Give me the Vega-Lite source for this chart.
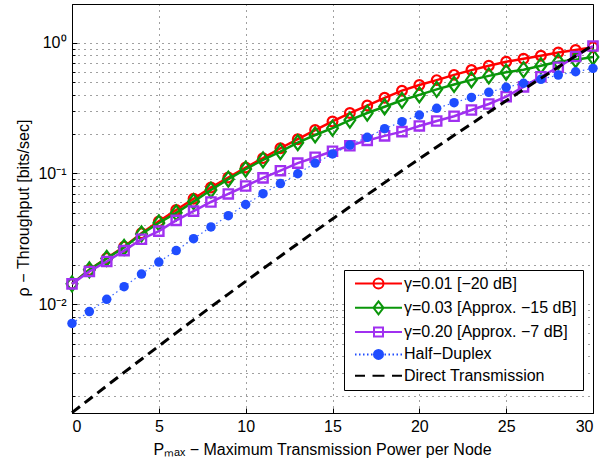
{
  "$schema": "https://vega.github.io/schema/vega-lite/v6.json",
  "width": 521,
  "height": 409,
  "autosize": {"type": "none"},
  "padding": {"left": 72, "top": 4, "right": 7, "bottom": 55},
  "background": "white",
  "config": {
    "view": {"stroke": "#000", "strokeWidth": 1},
    "axis": {
      "labelFont": "Liberation Sans", "titleFont": "Liberation Sans",
      "labelFontSize": 16, "titleFontSize": 16, "titleFontWeight": "normal",
      "labelColor": "#000", "titleColor": "#000", "domainColor": "#000",
      "tickColor": "#000", "gridColor": "#000", "gridDash": [1, 5], "gridOpacity": 0.75,
      "tickSize": -5
    },
    "legend": {
      "title": null, "padding": 5.5, "strokeColor": "#000", "fillColor": "#fff", "cornerRadius": 0,
      "labelFont": "Liberation Sans", "labelFontSize": 16, "labelColor": "#000", "labelLimit": 400,
      "symbolSize": 100, "symbolStrokeWidth": 2, "symbolOffset": 21, "labelOffset": 17.5, "rowPadding": 4.3
    }
  },
  "datasets": {
    "d": [
      {"x":0,"y":0.0143,"s":"g001"},{"x":1,"y":0.0183,"s":"g001"},{"x":2,"y":0.0225,"s":"g001"},{"x":3,"y":0.0275,"s":"g001"},{"x":4,"y":0.0349,"s":"g001"},{"x":5,"y":0.043,"s":"g001"},{"x":6,"y":0.0526,"s":"g001"},{"x":7,"y":0.064,"s":"g001"},{"x":8,"y":0.078,"s":"g001"},{"x":9,"y":0.093,"s":"g001"},{"x":10,"y":0.111,"s":"g001"},{"x":11,"y":0.131,"s":"g001"},{"x":12,"y":0.156,"s":"g001"},{"x":13,"y":0.183,"s":"g001"},{"x":14,"y":0.215,"s":"g001"},{"x":15,"y":0.25,"s":"g001"},{"x":16,"y":0.29,"s":"g001"},{"x":17,"y":0.331,"s":"g001"},{"x":18,"y":0.379,"s":"g001"},{"x":19,"y":0.43,"s":"g001"},{"x":20,"y":0.475,"s":"g001"},{"x":21,"y":0.518,"s":"g001"},{"x":22,"y":0.568,"s":"g001"},{"x":23,"y":0.618,"s":"g001"},{"x":24,"y":0.668,"s":"g001"},{"x":25,"y":0.716,"s":"g001"},{"x":26,"y":0.755,"s":"g001"},{"x":27,"y":0.797,"s":"g001"},{"x":28,"y":0.842,"s":"g001"},{"x":29,"y":0.88,"s":"g001"},{"x":30,"y":0.925,"s":"g001"},
      {"x":0,"y":0.0143,"s":"g003"},{"x":1,"y":0.0183,"s":"g003"},{"x":2,"y":0.0224,"s":"g003"},{"x":3,"y":0.0272,"s":"g003"},{"x":4,"y":0.0345,"s":"g003"},{"x":5,"y":0.0418,"s":"g003"},{"x":6,"y":0.05,"s":"g003"},{"x":7,"y":0.0609,"s":"g003"},{"x":8,"y":0.0747,"s":"g003"},{"x":9,"y":0.0905,"s":"g003"},{"x":10,"y":0.108,"s":"g003"},{"x":11,"y":0.127,"s":"g003"},{"x":12,"y":0.147,"s":"g003"},{"x":13,"y":0.172,"s":"g003"},{"x":14,"y":0.197,"s":"g003"},{"x":15,"y":0.222,"s":"g003"},{"x":16,"y":0.256,"s":"g003"},{"x":17,"y":0.29,"s":"g003"},{"x":18,"y":0.324,"s":"g003"},{"x":19,"y":0.363,"s":"g003"},{"x":20,"y":0.399,"s":"g003"},{"x":21,"y":0.44,"s":"g003"},{"x":22,"y":0.48,"s":"g003"},{"x":23,"y":0.52,"s":"g003"},{"x":24,"y":0.558,"s":"g003"},{"x":25,"y":0.595,"s":"g003"},{"x":26,"y":0.622,"s":"g003"},{"x":27,"y":0.668,"s":"g003"},{"x":28,"y":0.716,"s":"g003"},{"x":29,"y":0.742,"s":"g003"},{"x":30,"y":0.778,"s":"g003"},
      {"x":0,"y":0.0143,"s":"g020"},{"x":1,"y":0.0178,"s":"g020"},{"x":2,"y":0.0212,"s":"g020"},{"x":3,"y":0.0257,"s":"g020"},{"x":4,"y":0.0314,"s":"g020"},{"x":5,"y":0.0362,"s":"g020"},{"x":6,"y":0.0438,"s":"g020"},{"x":7,"y":0.0515,"s":"g020"},{"x":8,"y":0.0605,"s":"g020"},{"x":9,"y":0.0697,"s":"g020"},{"x":10,"y":0.0802,"s":"g020"},{"x":11,"y":0.0925,"s":"g020"},{"x":12,"y":0.105,"s":"g020"},{"x":13,"y":0.12,"s":"g020"},{"x":14,"y":0.133,"s":"g020"},{"x":15,"y":0.148,"s":"g020"},{"x":16,"y":0.163,"s":"g020"},{"x":17,"y":0.179,"s":"g020"},{"x":18,"y":0.194,"s":"g020"},{"x":19,"y":0.209,"s":"g020"},{"x":20,"y":0.231,"s":"g020"},{"x":21,"y":0.252,"s":"g020"},{"x":22,"y":0.274,"s":"g020"},{"x":23,"y":0.306,"s":"g020"},{"x":24,"y":0.34,"s":"g020"},{"x":25,"y":0.387,"s":"g020"},{"x":26,"y":0.46,"s":"g020"},{"x":27,"y":0.55,"s":"g020"},{"x":28,"y":0.65,"s":"g020"},{"x":29,"y":0.785,"s":"g020"},{"x":30,"y":0.945,"s":"g020"},
      {"x":0,"y":0.00712,"s":"hd"},{"x":1,"y":0.00878,"s":"hd"},{"x":2,"y":0.0109,"s":"hd"},{"x":3,"y":0.0136,"s":"hd"},{"x":4,"y":0.017,"s":"hd"},{"x":5,"y":0.021,"s":"hd"},{"x":6,"y":0.0257,"s":"hd"},{"x":7,"y":0.0317,"s":"hd"},{"x":8,"y":0.039,"s":"hd"},{"x":9,"y":0.0475,"s":"hd"},{"x":10,"y":0.0579,"s":"hd"},{"x":11,"y":0.07,"s":"hd"},{"x":12,"y":0.0837,"s":"hd"},{"x":13,"y":0.0995,"s":"hd"},{"x":14,"y":0.12,"s":"hd"},{"x":15,"y":0.141,"s":"hd"},{"x":16,"y":0.165,"s":"hd"},{"x":17,"y":0.189,"s":"hd"},{"x":18,"y":0.22,"s":"hd"},{"x":19,"y":0.249,"s":"hd"},{"x":20,"y":0.28,"s":"hd"},{"x":21,"y":0.315,"s":"hd"},{"x":22,"y":0.348,"s":"hd"},{"x":23,"y":0.382,"s":"hd"},{"x":24,"y":0.418,"s":"hd"},{"x":25,"y":0.456,"s":"hd"},{"x":26,"y":0.49,"s":"hd"},{"x":27,"y":0.525,"s":"hd"},{"x":28,"y":0.566,"s":"hd"},{"x":29,"y":0.6,"s":"hd"},{"x":30,"y":0.637,"s":"hd"},
      {"x":0,"y":0.00148,"s":"dt"},{"x":1,"y":0.001874,"s":"dt"},{"x":2,"y":0.002372,"s":"dt"},{"x":3,"y":0.003005,"s":"dt"},{"x":4,"y":0.003793,"s":"dt"},{"x":5,"y":0.004786,"s":"dt"},{"x":6,"y":0.006031,"s":"dt"},{"x":7,"y":0.007586,"s":"dt"},{"x":8,"y":0.009526,"s":"dt"},{"x":9,"y":0.01194,"s":"dt"},{"x":10,"y":0.01494,"s":"dt"},{"x":11,"y":0.01867,"s":"dt"},{"x":12,"y":0.02329,"s":"dt"},{"x":13,"y":0.02904,"s":"dt"},{"x":14,"y":0.03612,"s":"dt"},{"x":15,"y":0.04487,"s":"dt"},{"x":16,"y":0.0556,"s":"dt"},{"x":17,"y":0.0688,"s":"dt"},{"x":18,"y":0.0851,"s":"dt"},{"x":19,"y":0.105,"s":"dt"},{"x":20,"y":0.1294,"s":"dt"},{"x":21,"y":0.1593,"s":"dt"},{"x":22,"y":0.1957,"s":"dt"},{"x":23,"y":0.2401,"s":"dt"},{"x":24,"y":0.294,"s":"dt"},{"x":25,"y":0.3597,"s":"dt"},{"x":26,"y":0.4385,"s":"dt"},{"x":27,"y":0.5346,"s":"dt"},{"x":28,"y":0.652,"s":"dt"},{"x":29,"y":0.791,"s":"dt"},{"x":30,"y":0.96,"s":"dt"}
    ]
  },
  "data": {"name": "d"},
  "encoding": {
    "x": {
      "field": "x", "type": "quantitative",
      "scale": {"domain": [0, 30], "nice": false, "zero": false},
      "axis": {
        "values": [0, 5, 10, 15, 20, 25, 30], "grid": true, "labelPadding": 10,
        "title": "Pₘₐₓ − Maximum Transmission Power per Node",
        "titleX": 250, "titleY": 41, "titleBaseline": "alphabetic", "titleAlign": "center", "titleAnchor": null
      }
    },
    "y": {
      "field": "y", "type": "quantitative",
      "scale": {"type": "log", "domain": [0.00147, 1.98], "nice": false},
      "axis": {
        "values": [0.002,0.003,0.004,0.005,0.006,0.007,0.008,0.009,0.01,0.02,0.03,0.04,0.05,0.06,0.07,0.08,0.09,0.1,0.2,0.3,0.4,0.5,0.6,0.7,0.8,0.9,1],
        "grid": true, "labelPadding": 11,
        "tickSize": {"condition": {"test": "datum.value == 1 || datum.value == 0.1 || datum.value == 0.01", "value": -5}, "value": -3},
        "labelExpr": "datum.value == 1 ? '10⁰' : datum.value == 0.1 ? '10⁻¹' : datum.value == 0.01 ? '10⁻²' : ''",
        "title": "ρ − Throughput [bits/sec]",
        "titleX": -49, "titleY": 203.5, "titleBaseline": "middle", "titleAlign": "center", "titleAnchor": null
      }
    }
  },
  "layer": [
    {"transform": [{"filter": "datum.s == 'g001'"}], "mark": {"type": "line", "color": "#ff0000", "strokeWidth": 2.5}, "encoding": {}},
    {"transform": [{"filter": "datum.s == 'g001'"}], "mark": {"type": "point", "shape": "circle", "filled": false, "color": "#ff0000", "size": 95, "strokeWidth": 2.2, "opacity": 1}, "encoding": {}},
    {"transform": [{"filter": "datum.s == 'g003'"}], "mark": {"type": "line", "color": "#0a960a", "strokeWidth": 2.5}, "encoding": {}},
    {"transform": [{"filter": "datum.s == 'g003'"}], "mark": {"type": "point", "shape": "M0,-1L0.72,0L0,1L-0.72,0Z", "filled": false, "color": "#0a960a", "size": 225, "strokeWidth": 2.2, "opacity": 1}, "encoding": {}},
    {"transform": [{"filter": "datum.s == 'g020'"}], "mark": {"type": "line", "color": "#a030f0", "strokeWidth": 2.5}, "encoding": {}},
    {"transform": [{"filter": "datum.s == 'g020'"}], "mark": {"type": "point", "shape": "square", "filled": false, "color": "#a030f0", "size": 85, "strokeWidth": 2.4, "opacity": 1}, "encoding": {}},
    {"transform": [{"filter": "datum.s == 'hd'"}], "mark": {"type": "line", "color": "#3a66ff", "strokeWidth": 1.2, "strokeDash": [1.5, 3]}, "encoding": {}},
    {"transform": [{"filter": "datum.s == 'hd'"}], "mark": {"type": "point", "shape": "circle", "filled": true, "color": "#1f4dff", "size": 90, "strokeWidth": 0, "opacity": 1}, "encoding": {}},
    {"transform": [{"filter": "datum.s == 'dt'"}], "mark": {"type": "line", "color": "#000000", "strokeWidth": 3, "strokeDash": [10, 6]}, "encoding": {}},
    {
      "transform": [{"filter": "false"}],
      "mark": {"type": "point", "filled": true, "opacity": 1},
      "encoding": {
        "stroke": {
          "field": "s", "type": "nominal",
          "scale": {"domain": ["g001", "g003", "g020", "hd", "dt"], "range": ["#ff0000", "#0a960a", "#a030f0", "#1f4dff", "#000000"]},
          "legend": {"orient": "none", "legendX": 272, "legendY": 266,
            "labelExpr": "datum.label == 'g001' ? 'γ=0.01 [−20 dB]' : datum.label == 'g003' ? 'γ=0.03 [Approx. −15 dB]' : datum.label == 'g020' ? 'γ=0.20 [Approx. −7 dB]' : datum.label == 'hd' ? 'Half−Duplex' : 'Direct Transmission'"}
        },
        "fill": {
          "field": "s", "type": "nominal",
          "scale": {"domain": ["g001", "g003", "g020", "hd", "dt"], "range": ["transparent", "transparent", "transparent", "#1f4dff", "transparent"]},
          "legend": {"orient": "none", "legendX": 272, "legendY": 266,
            "labelExpr": "datum.label == 'g001' ? 'γ=0.01 [−20 dB]' : datum.label == 'g003' ? 'γ=0.03 [Approx. −15 dB]' : datum.label == 'g020' ? 'γ=0.20 [Approx. −7 dB]' : datum.label == 'hd' ? 'Half−Duplex' : 'Direct Transmission'"}
        },
        "shape": {
          "field": "s", "type": "nominal",
          "scale": {"domain": ["g001", "g003", "g020", "hd", "dt"], "range": [
            "M-4.7,0H4.7M1,0A1,1 0 1,1 -1,0A1,1 0 1,1 1,0Z",
            "M-4.7,0H4.7M0,-1.3L1,0L0,1.3L-1,0Z",
            "M-4.7,0H4.7M-0.9,-0.9H0.9V0.9H-0.9Z",
            "M-4.7,0h0.3M-3.9,0h0.3M-3.1,0h0.3M-2.3,0h0.3M-1.5,0h0.3M1.2,0h0.3M2,0h0.3M2.8,0h0.3M3.6,0h0.3M4.4,0h0.3M0.9,0A0.9,0.9 0 1,1 -0.9,0A0.9,0.9 0 1,1 0.9,0Z",
            "M-4.7,0H-2.7M-1.2,0H1.2M2.7,0H4.7"
          ]},
          "legend": {"orient": "none", "legendX": 272, "legendY": 266,
            "labelExpr": "datum.label == 'g001' ? 'γ=0.01 [−20 dB]' : datum.label == 'g003' ? 'γ=0.03 [Approx. −15 dB]' : datum.label == 'g020' ? 'γ=0.20 [Approx. −7 dB]' : datum.label == 'hd' ? 'Half−Duplex' : 'Direct Transmission'"}
        }
      }
    }
  ]
}
